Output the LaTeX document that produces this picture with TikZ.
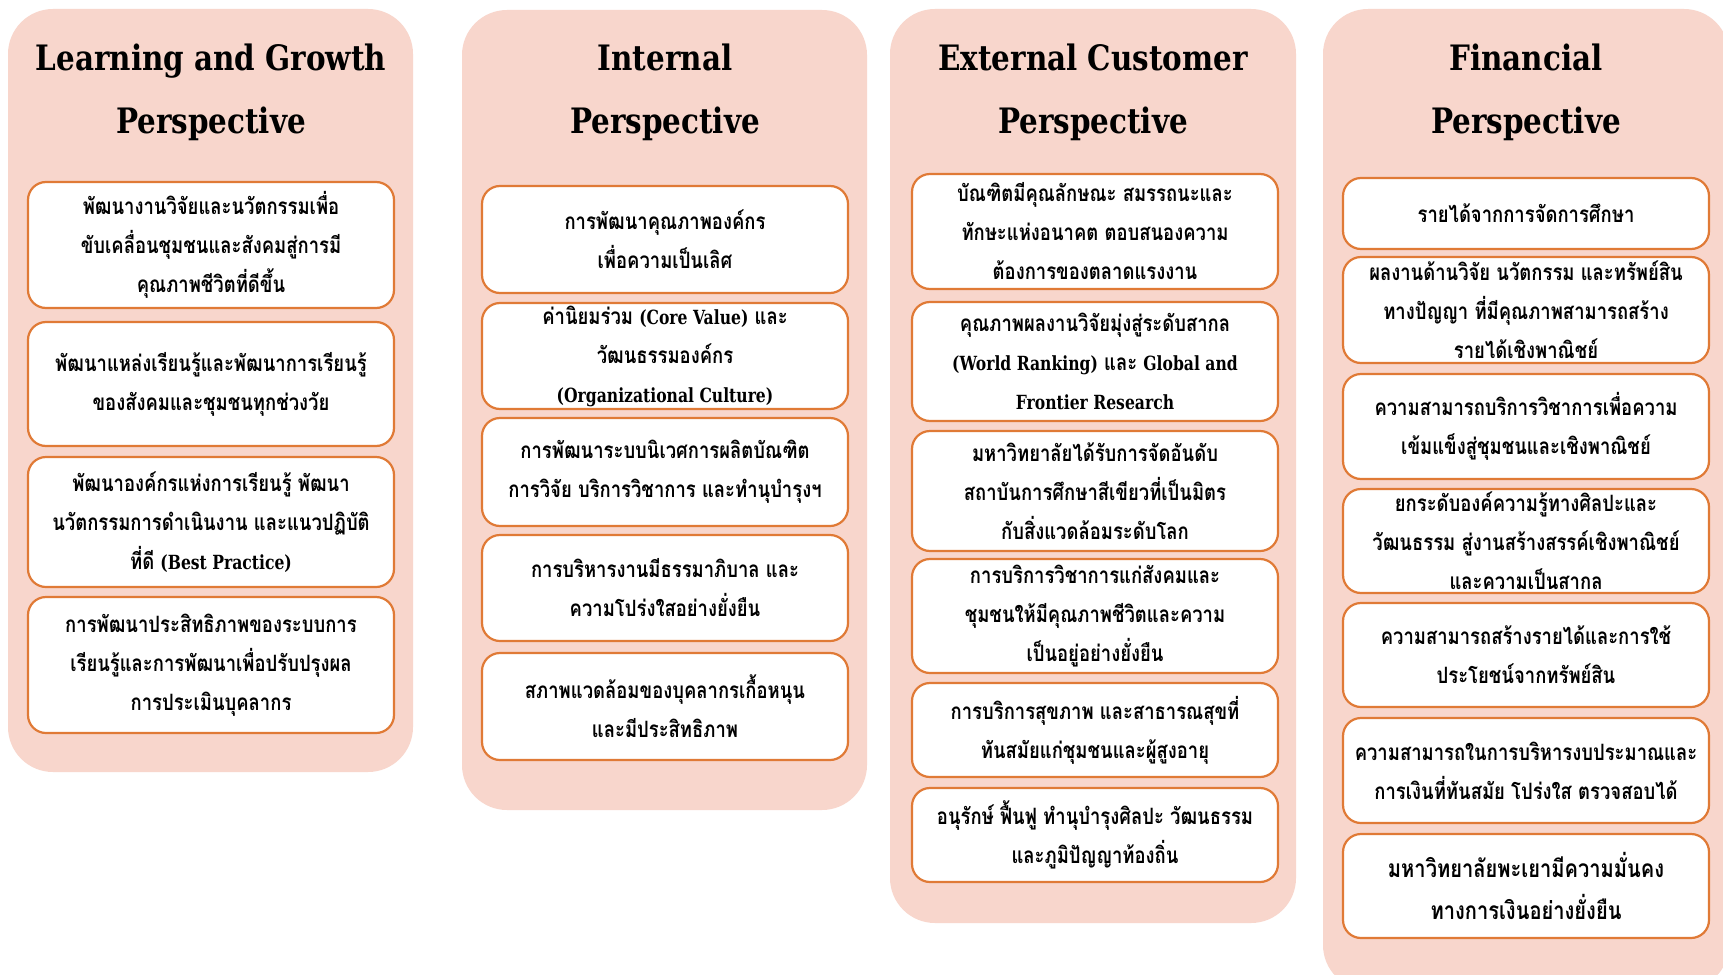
\documentclass[tikz,border=0pt]{standalone}
\usepackage{fontspec}
\newfontfamily\thaifont[Script=Thai,FakeStretch=0.82]{Loma}
\newfontfamily\headfont[FakeStretch=0.84]{DejaVu Serif}
\newfontfamily\latfont[FakeStretch=0.8]{DejaVu Serif}
\newcommand\lat[1]{{\latfont\bfseries\fontsize{19.5}{39}\selectfont #1}}
\definecolor{panelpeach}{RGB}{248,214,204}
\definecolor{goalline}{RGB}{224,122,54}
\tikzset{
  panel/.style={fill=panelpeach, rounded corners=45pt},
  head/.style={font=\headfont\bfseries\fontsize{35}{63}\selectfont, align=center},
  goal/.style={draw=goalline, line width=2.2pt, fill=white, rounded corners=18pt,
    minimum width=366pt, inner sep=0pt, align=center,
    font=\thaifont\bfseries\fontsize{22.5}{39}\selectfont},
}

\begin{document}
\begin{tikzpicture}[x=1pt,y=-1pt]
  \useasboundingbox (0,0) rectangle (1723,974);
  \clip (0,0) rectangle (1723,974);
  \fill[white] (0,0) rectangle (1723,974);

  \fill[panel] (8,9) rectangle (413,772);
  \fill[panel] (462,10) rectangle (867,810);
  \fill[panel] (890,9) rectangle (1296,923);
  \fill[panel] (1323,9) rectangle (1729,990);

  \node[head] (lgHead) at (211,92) {Learning and Growth\\Perspective};
  \node[head] (inHead) at (665,92) {Internal\\Perspective};
  \node[head] (exHead) at (1093,92) {External Customer\\Perspective};
  \node[head] (fiHead) at (1526,92) {Financial\\Perspective};

  \node[goal, minimum height=126pt] (lg1) at (211,245)
    {พัฒนางานวิจัยและนวัตกรรมเพื่อ\\ขับเคลื่อนชุมชนและสังคมสู่การมี\\คุณภาพชีวิตที่ดีขึ้น};
  \node[goal, minimum height=124pt] (lg2) at (211,384)
    {พัฒนาแหล่งเรียนรู้และพัฒนาการเรียนรู้\\ของสังคมและชุมชนทุกช่วงวัย};
  \node[goal, minimum height=130pt] (lg3) at (211,522)
    {พัฒนาองค์กรแห่งการเรียนรู้ พัฒนา\\นวัตกรรมการดำเนินงาน และแนวปฏิบัติ\\ที่ดี \lat{(Best Practice)}};
  \node[goal, minimum height=136pt] (lg4) at (211,665)
    {การพัฒนาประสิทธิภาพของระบบการ\\เรียนรู้และการพัฒนาเพื่อปรับปรุงผล\\การประเมินบุคลากร};

  \node[goal, minimum height=107pt] (in1) at (665,239.5)
    {การพัฒนาคุณภาพองค์กร\\เพื่อความเป็นเลิศ};
  \node[goal, minimum height=106pt] (in2) at (665,356)
    {ค่านิยมร่วม \lat{(Core Value)} และ\\วัฒนธรรมองค์กร\\\lat{(Organizational Culture)}};
  \node[goal, minimum height=108pt] (in3) at (665,472)
    {การพัฒนาระบบนิเวศการผลิตบัณฑิต\\การวิจัย บริการวิชาการ และทำนุบำรุงฯ};
  \node[goal, minimum height=106pt] (in4) at (665,588)
    {การบริหารงานมีธรรมาภิบาล และ\\ความโปร่งใสอย่างยั่งยืน};
  \node[goal, minimum height=107pt] (in5) at (665,706.5)
    {สภาพแวดล้อมของบุคลากรเกื้อหนุน\\และมีประสิทธิภาพ};

  \node[goal, minimum height=115pt] (ex1) at (1095,231.5)
    {บัณฑิตมีคุณลักษณะ สมรรถนะและ\\ทักษะแห่งอนาคต ตอบสนองความ\\ต้องการของตลาดแรงงาน};
  \node[goal, minimum height=119pt] (ex2) at (1095,361.5)
    {คุณภาพผลงานวิจัยมุ่งสู่ระดับสากล\\\lat{(World Ranking)} และ \lat{Global and}\\\lat{Frontier Research}};
  \node[goal, minimum height=120pt] (ex3) at (1095,491)
    {มหาวิทยาลัยได้รับการจัดอันดับ\\สถาบันการศึกษาสีเขียวที่เป็นมิตร\\กับสิ่งแวดล้อมระดับโลก};
  \node[goal, minimum height=114pt] (ex4) at (1095,616)
    {การบริการวิชาการแก่สังคมและ\\ชุมชนให้มีคุณภาพชีวิตและความ\\เป็นอยู่อย่างยั่งยืน};
  \node[goal, minimum height=94pt] (ex5) at (1095,730)
    {การบริการสุขภาพ และสาธารณสุขที่\\ทันสมัยแก่ชุมชนและผู้สูงอายุ};
  \node[goal, minimum height=94pt] (ex6) at (1095,835)
    {อนุรักษ์ ฟื้นฟู ทำนุบำรุงศิลปะ วัฒนธรรม\\และภูมิปัญญาท้องถิ่น};

  \node[goal, minimum height=71pt] (fi1) at (1526,213.5)
    {รายได้จากการจัดการศึกษา};
  \node[goal, minimum height=106pt] (fi2) at (1526,310)
    {ผลงานด้านวิจัย นวัตกรรม และทรัพย์สิน\\ทางปัญญา ที่มีคุณภาพสามารถสร้าง\\รายได้เชิงพาณิชย์};
  \node[goal, minimum height=105pt] (fi3) at (1526,426.5)
    {ความสามารถบริการวิชาการเพื่อความ\\เข้มแข็งสู่ชุมชนและเชิงพาณิชย์};
  \node[goal, minimum height=104pt] (fi4) at (1526,541)
    {ยกระดับองค์ความรู้ทางศิลปะและ\\วัฒนธรรม สู่งานสร้างสรรค์เชิงพาณิชย์\\และความเป็นสากล};
  \node[goal, minimum height=104pt] (fi5) at (1526,655)
    {ความสามารถสร้างรายได้และการใช้\\ประโยชน์จากทรัพย์สิน};
  \node[goal, minimum height=105pt] (fi6) at (1526,770.5)
    {ความสามารถในการบริหารงบประมาณและ\\การเงินที่ทันสมัย โปร่งใส ตรวจสอบได้};
  \node[goal, minimum height=104pt, font=\thaifont\bfseries\fontsize{24.5}{42}\selectfont] (fi7) at (1526,886)
    {มหาวิทยาลัยพะเยามีความมั่นคง\\ทางการเงินอย่างยั่งยืน};
\end{tikzpicture}
\end{document}
